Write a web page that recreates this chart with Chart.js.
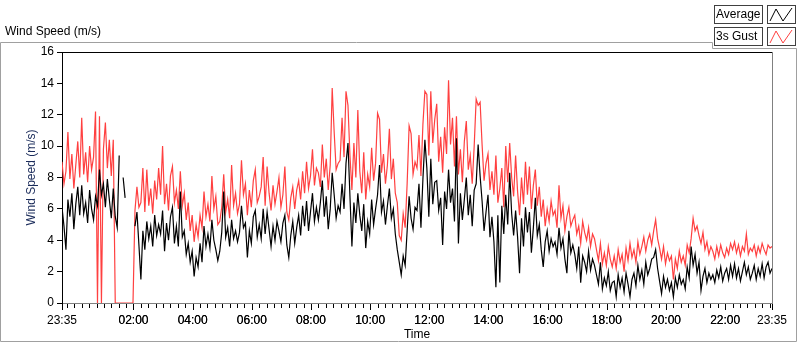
<!DOCTYPE html>
<html>
<head>
<meta charset="utf-8">
<script src="https://cdn.jsdelivr.net/npm/chart.js@4.4.0/dist/chart.umd.min.js"></script>
<style>
	html, body {margin:0; padding:0; background:#fff;}
	canvas {display:block;}
</style>
</head>
<body>
<canvas id="myChart" width="800" height="342"></canvas>
<script>
// one sample every 4 minutes, starting 23:35
var step = 4;

// 3s Gust (m/s)
var gust = [
	9.0, 7.6, 8.4, 10.9, 7.9, 9.5, 7.3, 8.8, 10.3, 8.0,
	11.8, 8.2, 9.6, 7.7, 10.0, 8.5, 9.3, 12.2, 0, 11.9,
	0, 9.8, 11.5, 8.6, 10.4, 8.1, 10.4, 0, 0, 0,
	0, 0, 0, 0, 0, 0, 0, 5.9, 7.4, 6.1,
	6.4, 8.6, 5.8, 8.5, 6.2, 7.3, 5.7, 7.8, 6.6, 8.6,
	6.9, 10.0, 6.3, 7.6, 5.9, 8.1, 8.7, 6.4, 7.2, 6.0,
	8.4, 6.2, 7.0, 5.3, 6.4, 4.6, 5.6, 3.9, 5.0, 4.2,
	5.6, 4.8, 7.1, 5.5, 6.3, 5.2, 8.1, 6.0, 6.8, 5.0,
	5.2, 6.1, 8.2, 5.8, 6.6, 5.4, 8.8, 6.2, 7.0, 5.7,
	6.3, 9.1, 6.9, 7.6, 5.6, 7.2, 6.1, 7.8, 8.5, 6.4,
	6.8, 7.4, 9.3, 6.2, 8.7, 7.0, 5.9, 7.5, 6.3, 7.1,
	8.0, 6.1, 6.9, 8.7, 5.8, 5.3, 6.7, 7.4, 6.0, 7.2,
	7.8, 6.6, 8.4, 7.0, 9.0, 7.3, 8.1, 9.8, 7.5, 8.6,
	8.3, 7.4, 10.1, 8.0, 9.2, 7.2, 8.8, 13.7, 10.9, 8.5,
	8.9, 9.1, 11.8, 9.3, 13.5, 12.6, 9.4, 7.2, 10.2, 8.0,
	12.3, 8.4, 7.0, 9.6, 6.6, 8.2, 7.4, 9.9, 7.8, 8.9,
	12.1, 11.7, 8.3, 9.5, 7.6, 8.8, 11.1, 7.9, 9.2, 7.0,
	6.4, 4.3, 4.0, 5.7, 4.8, 7.6, 11.3, 10.8, 8.2, 9.0,
	8.6, 10.7, 8.1, 11.4, 13.5, 13.3, 9.4, 13.5, 10.2, 11.7,
	12.7, 9.0, 10.6, 8.3, 11.2, 9.5, 14.2, 10.1, 11.8, 8.7,
	11.9, 8.2, 9.8, 7.7, 10.3, 11.6, 8.5, 9.4, 7.6, 10.0,
	13.0, 12.6, 12.8, 10.1, 7.8, 8.9, 9.5, 7.2, 8.4, 6.9,
	9.4, 6.4, 7.3, 8.6, 6.1, 10.0, 7.7, 10.2, 8.0, 6.8,
	9.4, 7.1, 5.6, 8.0, 6.3, 9.0, 6.9, 8.7, 6.0, 7.5,
	8.5, 6.2, 7.4, 5.5, 6.6, 4.9, 6.0, 5.2, 6.5, 5.6,
	5.9, 4.8, 7.5, 5.4, 6.2, 4.6, 5.5, 6.1, 4.9, 5.3,
	5.6, 4.4, 4.9, 3.8, 5.2, 4.5, 4.0, 4.8, 3.6, 4.4,
	4.1, 3.4, 2.7, 3.8, 2.5, 3.2, 2.4, 3.6, 2.8, 2.3,
	3.0, 2.2, 3.4, 2.6, 3.1, 2.0, 3.5, 2.7, 3.8, 2.9,
	3.4, 2.6, 3.9, 3.1, 3.6, 4.2, 3.3, 4.0, 4.4, 3.7,
	4.6, 5.3, 4.1, 3.5, 2.8, 3.6, 2.5, 3.2, 2.7, 3.0,
	1.5, 2.8, 2.2, 3.3, 2.6, 3.0, 2.4, 3.7, 3.2, 4.1,
	5.4, 4.6, 4.9, 4.3, 3.8, 4.5, 3.4, 3.9, 3.1, 3.6,
	3.3, 2.8, 3.6, 3.0, 3.7, 3.2, 2.9, 3.5, 3.1, 3.8,
	3.4, 3.9, 3.2, 3.7, 3.0, 3.6, 3.3, 4.4, 3.1, 3.5,
	3.3, 3.7, 3.0, 3.6, 3.2, 3.8, 3.4, 3.1, 3.7, 3.5, 3.6
];

// Average (m/s), null = no data
var average = [
	6.1, 4.9, 3.4, 6.6, 5.5, 7.0, 4.7, 6.3, 7.4, 5.6,
	7.5, 5.7, 6.4, 5.1, 7.2, 6.0, 5.3, 6.8, 6.2, 8.5,
	6.9, 7.6, 6.1, 7.9, 6.6, 5.4, 7.3, 5.5, 4.8, 9.4,
	null, 8.0, 6.7, null, null, null, null, 4.9, 5.8, 3.7,
	1.5, 4.6, 3.4, 5.2, 4.1, 4.9, 3.6, 5.6, 4.3, 5.0,
	4.4, 5.9, 3.3, 5.1, 4.0, 5.5, 6.1, 3.8, 4.9, 3.6,
	7.1, 4.2, 4.6, 3.1, 3.8, 2.6, 3.3, 1.7, 2.9, 2.3,
	3.8, 2.6, 4.9, 3.6, 4.4, 3.5, 5.3, 4.0, 3.4, 2.7,
	3.3, 4.5, 7.1, 4.2, 4.8, 3.6, 5.3, 4.1, 4.6, 3.9,
	4.5, 6.2, 4.8, 5.1, 2.9, 4.6, 3.8, 5.5, 5.9, 4.2,
	5.0, 4.1, 6.0, 4.4, 5.8, 4.7, 3.6, 4.9, 4.0, 5.2,
	4.6, 3.9, 5.1, 5.6, 3.7, 2.9, 4.3, 5.2, 3.8, 4.8,
	5.6, 4.3, 6.2, 4.9, 6.5, 4.6, 5.8, 7.0, 5.2, 6.1,
	5.3, 6.4, 7.8, 5.5, 6.8, 4.7, 6.0, 8.3, 6.9, 5.4,
	6.2, 5.8, 7.6, 6.0, 8.9, 10.2, 6.8, 3.6, 6.4, 5.1,
	7.0, 5.6, 4.6, 6.3, 3.5, 5.2, 4.4, 6.6, 5.0, 6.0,
	6.9, 8.8, 5.8, 6.5, 5.0, 6.2, 7.3, 5.4, 6.0, 4.4,
	3.4, 2.6, 1.8, 3.0, 2.4, 4.6, 6.8, 5.4, 4.7, 6.1,
	5.9, 7.6, 4.8, 7.9, 10.4, 8.6, 5.5, 9.2, 6.3, 7.7,
	7.8, 5.9, 6.7, 3.7, 7.1, 6.0, 8.5, 6.4, 7.3, 5.2,
	10.5, 3.8, 7.0, 5.3, 6.6, 8.0, 5.6, 6.9, 4.9, 7.2,
	7.6, 10.1, 8.1, 6.5, 4.6, 5.8, 6.9, 4.2, 5.5, 3.9,
	1.0, 5.6, 1.3, 6.2, 4.4, 6.9, 5.0, 8.3, 5.7, 4.3,
	5.9, 4.2, 1.9, 5.4, 3.6, 6.1, 4.5, 5.8, 3.2, 4.8,
	6.7, 4.3, 5.0, 3.4, 2.3, 3.9, 4.6, 3.3, 4.1, 3.6,
	3.9, 3.1, 4.8, 3.5, 4.1, 2.8, 1.9, 4.6, 3.2, 3.7,
	3.1, 2.2, 3.6, 1.3, 3.0, 2.6, 2.0, 3.3, 2.1, 2.8,
	2.4, 1.8, 1.2, 2.6, 0.9, 1.6, 1.1, 2.0, 0.8, 1.3,
	1.4, 0.4, 1.8, 1.0, 1.6, 0.7, 1.9, 1.2, 0.4, 1.5,
	1.9, 1.1, 2.4, 1.5, 2.1, 1.2, 2.6, 1.8, 2.2, 2.8,
	2.9, 3.4, 2.2, 1.4, 0.6, 1.7, 1.0, 1.5, 0.8, 1.3,
	0.4, 1.6, 1.0, 1.8, 1.2, 1.5, 0.9, 2.3, 1.6, 3.6,
	2.4, 3.1, 1.9, 2.6, 0.8, 1.7, 2.2, 1.3, 1.9, 1.5,
	1.8, 1.3, 2.1, 1.6, 2.3, 1.4, 1.9, 2.2, 1.5, 2.4,
	1.7, 2.5, 1.6, 2.2, 1.4, 2.0, 2.6, 1.8, 2.3, 1.5,
	1.9, 2.4, 1.5, 2.2, 1.7, 2.5, 1.6, 2.3, 2.6, 1.9, 2.2
];

// x axis: minutes since 23:35
var majorTicks = [0, 145, 265, 385, 505, 625, 745, 865, 985, 1105, 1225, 1345, 1440];
var tickLabels = ['23:35', '02:00', '04:00', '06:00', '08:00', '10:00', '12:00', '14:00', '16:00', '18:00', '20:00', '22:00', '23:35'];
// small ticks every quarter hour (23:45 = 10 min ... 23:30 = 1435 min)
var minorTicks = [];
for (var m = 10; m <= 1435; m += 15) minorTicks.push(m);

var FONT = 'Liberation Sans';

function toPoints(arr) {
	return arr.map(function (v, i) { return {x: i * step, y: v}; });
}

// frame, title, legend and x tick marks (LabVIEW style)
var panelPlugin = {
	id: 'panel',
	afterDraw: function (chart) {
		var ctx = chart.ctx;
		var a = chart.chartArea;
		var xs = chart.scales.x;
		ctx.save();
		// outer panel
		ctx.strokeStyle = '#a0a0a0';
		ctx.lineWidth = 1;
		ctx.beginPath();
		ctx.moveTo(0.5, 341.5);
		ctx.lineTo(0.5, 42.5);
		ctx.lineTo(712.5, 42.5);
		ctx.lineTo(712.5, 48.5);
		ctx.lineTo(796.5, 48.5);
		ctx.lineTo(796.5, 341.5);
		ctx.lineTo(0.5, 341.5);
		ctx.stroke();

		// plot frame top / right
		ctx.strokeStyle = '#000';
		ctx.beginPath();
		ctx.moveTo(a.left, a.top + 0.5);
		ctx.lineTo(a.right, a.top + 0.5);
		ctx.stroke();
		ctx.strokeStyle = '#808080';
		ctx.beginPath();
		ctx.moveTo(a.right + 0.5, a.top);
		ctx.lineTo(a.right + 0.5, a.bottom);
		ctx.stroke();

		// x tick marks
		ctx.strokeStyle = '#000';
		ctx.beginPath();
		minorTicks.concat(majorTicks).forEach(function (v) {
			var px = Math.round(xs.getPixelForValue(v)) + 0.5;
			var len = majorTicks.indexOf(v) >= 0 ? 6 : 4;
			ctx.moveTo(px, a.bottom + 1);
			ctx.lineTo(px, a.bottom + 1 + len);
		});
		ctx.stroke();

		// chart caption
		ctx.fillStyle = '#000';
		ctx.font = '12px "' + FONT + '"';
		ctx.textBaseline = 'middle';
		ctx.textAlign = 'left';
		ctx.fillText('Wind Speed (m/s)', 5, 32);

		// legend
		var rows = [
			{label: 'Average', color: '#000', y: 5},
			{label: '3s Gust', color: '#ff4040', y: 27}
		];
		rows.forEach(function (r) {
			ctx.strokeStyle = '#404040';
			ctx.strokeRect(714.5, r.y + 0.5, 48, 18);
			ctx.strokeRect(767.5, r.y + 0.5, 28, 18);
			ctx.fillStyle = '#000';
			ctx.fillText(r.label, 716, r.y + 10);
			ctx.strokeStyle = r.color;
			ctx.beginPath();
			ctx.moveTo(770, r.y + 16);
			ctx.lineTo(776, r.y + 4);
			ctx.lineTo(783, r.y + 16);
			ctx.lineTo(792, r.y + 3);
			ctx.stroke();
		});
		ctx.restore();
	}
};

var ctx = document.getElementById('myChart').getContext('2d');
var chart = new Chart(ctx, {
	type: 'line',
	data: {
		datasets: [
			{
				label: 'Average',
				data: toPoints(average),
				borderColor: '#000000',
				borderWidth: 1.2,
				pointRadius: 0,
				tension: 0,
				spanGaps: false
			},
			{
				label: '3s Gust',
				data: toPoints(gust),
				borderColor: '#ff4040',
				borderWidth: 1.2,
				pointRadius: 0,
				tension: 0,
				spanGaps: false
			}
		]
	},
	options: {
		responsive: false,
		animation: false,
		events: [],
		layout: {padding: {left: 0, top: 52, right: 28, bottom: 0}},
		plugins: {
			legend: {display: false},
			tooltip: {enabled: false}
		},
		scales: {
			x: {
				type: 'linear',
				min: 0,
				max: 1440,
				afterBuildTicks: function (scale) {
					scale.ticks = majorTicks.concat(minorTicks).sort(function (p, q) { return p - q; })
						.map(function (v) { return {value: v}; });
				},
				afterFit: function (scale) { scale.height = 39; },
				grid: {display: false},
				border: {display: true, color: '#808080'},
				ticks: {
					autoSkip: false,
					maxRotation: 0,
					padding: 2,
					color: '#000',
					font: {family: FONT, size: 12},
					callback: function (v) {
						var k = majorTicks.indexOf(v);
						return k >= 0 ? tickLabels[k] : '';
					}
				},
				title: {
					display: true,
					text: 'Time',
					color: '#000',
					font: {family: FONT, size: 12},
					padding: {top: 0, bottom: 0}
				}
			},
			y: {
				min: 0,
				max: 16,
				afterFit: function (scale) { scale.width = 62; },
				grid: {drawOnChartArea: false, tickLength: 5, color: '#000'},
				border: {display: true, color: '#000'},
				ticks: {
					stepSize: 2,
					padding: 3,
					color: '#000',
					font: {family: FONT, size: 12}
				},
				title: {
					display: true,
					text: 'Wind Speed (m/s)',
					color: '#1a2b5a',
					font: {family: FONT, size: 12},
					padding: {top: 24, bottom: 0}
				}
			}
		}
	},
	plugins: [panelPlugin]
});
</script>
</body>
</html>
